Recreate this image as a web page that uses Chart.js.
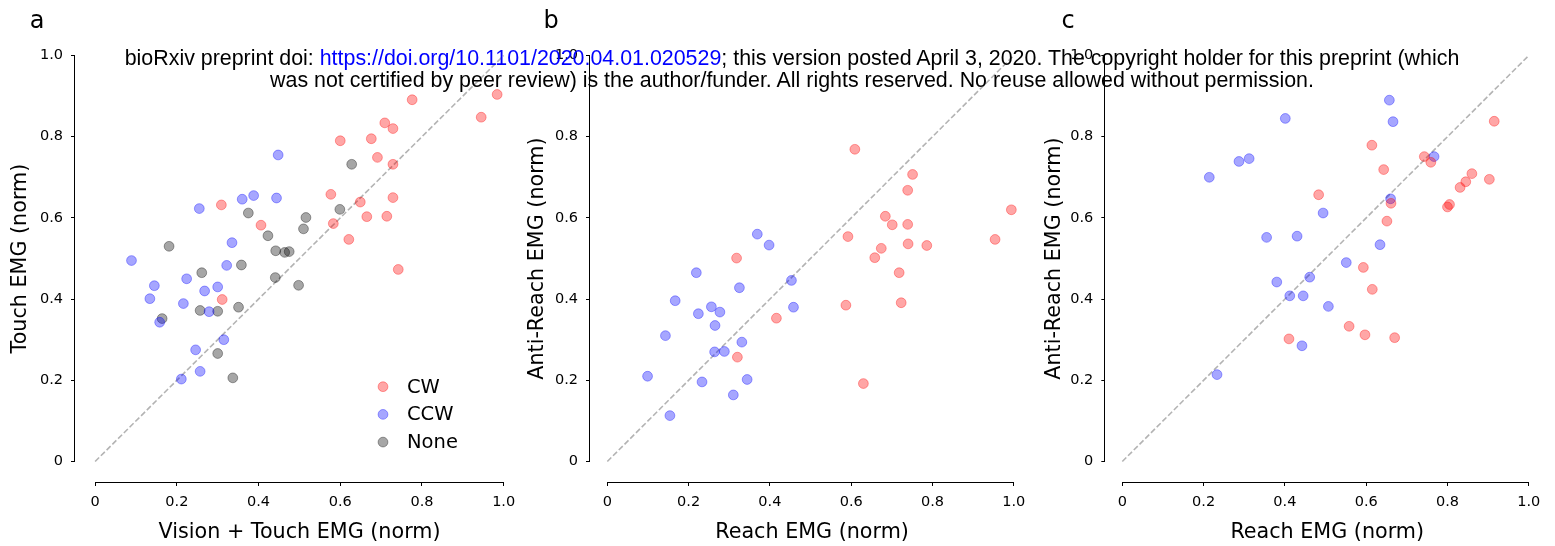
<!DOCTYPE html>
<html>
<head>
<meta charset="utf-8">
<script src="https://cdn.jsdelivr.net/npm/chart.js@4/dist/chart.umd.min.js"></script>
<style>
  html, body { margin: 0; padding: 0; background: #fff; }
  body { width: 1555px; height: 546px; position: relative; overflow: hidden; }
  canvas { position: absolute; top: 0; }
  .letter { position: absolute; font-family: 'DejaVu Sans'; font-size: 24px; line-height: 24px; color: #000; transform: translate(-50%, -50%); }
  #header { position: absolute; left: 0; width: 1584px; top: 47px; text-align: center; font-family: 'Liberation Sans'; font-size: 21.4px; line-height: 22px; color: #000; white-space: nowrap; }
  #header a { color: #0000ff; text-decoration: none; }
</style>
</head>
<body>
<canvas id="ca" width="530" height="546" style="left:0px"></canvas>
<canvas id="cb" width="520" height="546" style="left:520px"></canvas>
<canvas id="cc" width="520" height="546" style="left:1035px"></canvas>
<div class="letter" style="left:37px; top:20px">a</div>
<div class="letter" style="left:551px; top:20px">b</div>
<div class="letter" style="left:1068px; top:20px">c</div>
<div id="header">bioRxiv preprint doi: <a>https://doi.org/10.1101/2020.04.01.020529</a>; this version posted April 3, 2020. The copyright holder for this preprint (which<br>was not certified by peer review) is the author/funder. All rights reserved. No reuse allowed without permission.</div>
<script>
// ---------- data ----------
const tickValues = [0, 0.2, 0.4, 0.6, 0.8, 1.0];
const tickLabels = ['0', '0.2', '0.4', '0.6', '0.8', '1.0'];
const seriesNames = ['CW', 'CCW', 'None'];
const identityX = [0, 1];
const identityY = [0, 1];

// panel a: Vision + Touch EMG vs Touch EMG
const aCW_x = [0.776,0.984,0.945,0.709,0.729,0.600,0.676,0.691,0.729,0.577,0.649,0.729,0.309,0.665,0.714,0.406,0.583,0.621,0.742,0.311];
const aCW_y = [0.891,0.904,0.848,0.834,0.820,0.790,0.795,0.749,0.732,0.658,0.639,0.650,0.632,0.603,0.604,0.582,0.586,0.547,0.473,0.399];
const aCCW_x = [0.448,0.255,0.360,0.388,0.444,0.335,0.089,0.322,0.224,0.145,0.268,0.300,0.134,0.216,0.279,0.158,0.315,0.246,0.257,0.211];
const aCCW_y = [0.755,0.623,0.646,0.655,0.649,0.539,0.495,0.483,0.450,0.433,0.420,0.430,0.401,0.389,0.369,0.343,0.300,0.275,0.222,0.203];
const aNone_x = [0.628,0.599,0.516,0.510,0.375,0.423,0.442,0.464,0.475,0.181,0.261,0.358,0.441,0.498,0.257,0.300,0.351,0.164,0.300,0.337];
const aNone_y = [0.732,0.621,0.601,0.573,0.612,0.556,0.519,0.515,0.517,0.530,0.465,0.484,0.453,0.434,0.372,0.370,0.380,0.352,0.266,0.206];

// panel b: Reach EMG vs Anti-Reach EMG
const bCW_x = [0.609,0.751,0.739,0.994,0.684,0.701,0.739,0.592,0.954,0.740,0.786,0.674,0.658,0.318,0.718,0.587,0.723,0.416,0.320,0.630];
const bCW_y = [0.769,0.707,0.668,0.620,0.604,0.583,0.584,0.554,0.547,0.536,0.532,0.525,0.502,0.501,0.465,0.385,0.391,0.353,0.257,0.192];
const bCCW_x = [0.369,0.398,0.219,0.453,0.325,0.167,0.256,0.458,0.277,0.224,0.265,0.143,0.331,0.264,0.288,0.099,0.344,0.233,0.310,0.154];
const bCCW_y = [0.560,0.533,0.465,0.446,0.428,0.396,0.381,0.380,0.368,0.364,0.335,0.310,0.294,0.270,0.271,0.210,0.202,0.196,0.164,0.113];

// panel c: Reach EMG vs Anti-Reach EMG
const cCW_x = [0.915,0.614,0.743,0.759,0.643,0.860,0.903,0.845,0.831,0.483,0.661,0.805,0.800,0.651,0.593,0.615,0.558,0.597,0.670,0.410];
const cCW_y = [0.838,0.779,0.751,0.737,0.719,0.709,0.695,0.689,0.675,0.657,0.636,0.633,0.627,0.592,0.478,0.424,0.333,0.312,0.305,0.302];
const cCCW_x = [0.657,0.401,0.666,0.312,0.287,0.767,0.214,0.660,0.494,0.355,0.430,0.634,0.551,0.461,0.380,0.412,0.445,0.507,0.442,0.233];
const cCCW_y = [0.890,0.845,0.837,0.746,0.739,0.751,0.700,0.647,0.612,0.552,0.555,0.534,0.490,0.454,0.442,0.408,0.408,0.382,0.285,0.214];

// ---------- styling / layout ----------
Chart.defaults.font.family = 'DejaVu Sans';
Chart.defaults.color = '#000';
const COLORS = {
  CW: 'rgba(255,0,0,0.35)',
  CCW: 'rgba(0,0,255,0.35)',
  None: 'rgba(0,0,0,0.35)'
};
const PX_PER_UNIT = 406;
const AREA_BOTTOM = 482;      // x spine
const Y_MIN = -0.0505;
const Y_MAX = 1.05;
const X_MAX = 1.05;
const CANVAS_H = 546;

function pts(xs, ys) { return xs.map((x, i) => ({ x: x, y: ys[i] })); }

function scatterDs(name, xs, ys) {
  return {
    type: 'scatter', label: name, data: pts(xs, ys),
    backgroundColor: COLORS[name], borderColor: COLORS[name],
    borderWidth: 1, pointRadius: 4.9, pointHoverRadius: 4.9, clip: false, order: 1
  };
}

const spines = {
  id: 'spines',
  afterDraw(chart) {
    const { ctx, scales: { x, y }, chartArea } = chart;
    ctx.save();
    ctx.strokeStyle = '#000';
    ctx.lineWidth = 1;
    const lx = Math.round(chartArea.left) - 0.5;
    ctx.beginPath();
    ctx.moveTo(lx, y.getPixelForValue(tickValues[0]));
    ctx.lineTo(lx, y.getPixelForValue(tickValues[tickValues.length - 1]));
    ctx.stroke();
    const by = Math.round(chartArea.bottom) + 0.5;
    ctx.beginPath();
    ctx.moveTo(x.getPixelForValue(tickValues[0]), by);
    ctx.lineTo(x.getPixelForValue(tickValues[tickValues.length - 1]), by);
    ctx.stroke();
    ctx.restore();
  }
};

const insideLegend = {
  id: 'insideLegend',
  afterDatasetsDraw(chart, args, opts) {
    if (!opts || !opts.show) return;
    const ctx = chart.ctx;
    const ds = chart.data.datasets.filter(d => d.type === 'scatter');
    ctx.save();
    ds.forEach((d, i) => {
      const cx = chart.chartArea.left + opts.dx;
      const cy = chart.chartArea.top + opts.dy + i * opts.gap;
      ctx.beginPath();
      ctx.arc(cx, cy, 4.9, 0, Math.PI * 2);
      ctx.fillStyle = d.backgroundColor; ctx.fill();
      ctx.lineWidth = 1; ctx.strokeStyle = d.borderColor; ctx.stroke();
      ctx.fillStyle = '#000';
      ctx.font = '19.5px "DejaVu Sans"';
      ctx.textBaseline = 'middle';
      ctx.textAlign = 'left';
      ctx.fillText(d.label, cx + 24, cy + 1);
    });
    ctx.restore();
  }
};

function makeChart(id, cfg) {
  const canvas = document.getElementById(id);
  const W = canvas.width;
  const areaLeft = cfg.yAxisWidth;                 // relative to canvas
  const xMin = -cfg.spineOffset / PX_PER_UNIT;
  const areaRight = areaLeft + (X_MAX - xMin) * PX_PER_UNIT;
  const areaTop = AREA_BOTTOM - (Y_MAX - Y_MIN) * PX_PER_UNIT;
  const datasets = [
    {
      type: 'line', label: 'identity', data: pts(identityX, identityY),
      borderColor: '#b3b3b3', borderWidth: 1.6, borderDash: [5.6, 2.5],
      pointRadius: 0, fill: false, order: 10, clip: false
    }
  ].concat(cfg.series.map(s => scatterDs(s.name, s.x, s.y)));

  const tickCfg = {
    font: { size: 14.5 }, color: '#000', autoSkip: false, maxRotation: 0,
    callback: (v, i) => tickLabels[i]
  };
  return new Chart(canvas, {
    data: { datasets: datasets },
    options: {
      responsive: false, animation: false, devicePixelRatio: 1,
      layout: { padding: { top: areaTop, left: 0, right: W - areaLeft - areaRight, bottom: 0 } },
      plugins: { legend: { display: false }, tooltip: { enabled: false },
                 insideLegend: cfg.legend || { show: false } },
      scales: {
        x: {
          type: 'linear', position: 'bottom', min: xMin, max: X_MAX,
          afterBuildTicks: s => { s.ticks = tickValues.map(v => ({ value: v })); },
          afterFit: s => { s.height = CANVAS_H - AREA_BOTTOM; },
          grid: { drawOnChartArea: false, drawTicks: true, tickLength: 4, color: '#000', lineWidth: 1 },
          border: { display: false },
          ticks: Object.assign({ padding: 7.5 }, tickCfg),
          title: { display: true, text: cfg.xTitle, font: { size: 20.7 }, color: '#000', padding: { top: 0, bottom: 1 } }
        },
        y: {
          type: 'linear', position: 'left', min: Y_MIN, max: Y_MAX,
          afterBuildTicks: s => { s.ticks = tickValues.map(v => ({ value: v })); },
          afterFit: s => { s.width = cfg.yAxisWidth; },
          grid: { drawOnChartArea: false, drawTicks: true, tickLength: 4, color: '#000', lineWidth: 1 },
          border: { display: false },
          ticks: Object.assign({ padding: 8 }, tickCfg),
          title: { display: true, text: cfg.yTitle, font: { size: 20.7 }, color: '#000', padding: { top: cfg.yTitlePad, bottom: 0 } }
        }
      }
    },
    plugins: [spines, insideLegend]
  });
}

makeChart('ca', {
  yAxisWidth: 75, spineOffset: 20, yTitlePad: 8.5,
  xTitle: 'Vision + Touch EMG (norm)', yTitle: 'Touch EMG (norm)',
  series: [
    { name: seriesNames[0], x: aCW_x, y: aCW_y },
    { name: seriesNames[1], x: aCCW_x, y: aCCW_y },
    { name: seriesNames[2], x: aNone_x, y: aNone_y }
  ],
  legend: { show: true, dx: 308, dy: 351.5, gap: 27.7 }
});
makeChart('cb', {
  yAxisWidth: 70, spineOffset: 17.3, yTitlePad: 5.2,
  xTitle: 'Reach EMG (norm)', yTitle: 'Anti-Reach EMG (norm)',
  series: [
    { name: seriesNames[0], x: bCW_x, y: bCW_y },
    { name: seriesNames[1], x: bCCW_x, y: bCCW_y }
  ]
});
makeChart('cc', {
  yAxisWidth: 70.3, spineOffset: 17, yTitlePad: 7,
  xTitle: 'Reach EMG (norm)', yTitle: 'Anti-Reach EMG (norm)',
  series: [
    { name: seriesNames[0], x: cCW_x, y: cCW_y },
    { name: seriesNames[1], x: cCCW_x, y: cCCW_y }
  ]
});
</script>
</body>
</html>
